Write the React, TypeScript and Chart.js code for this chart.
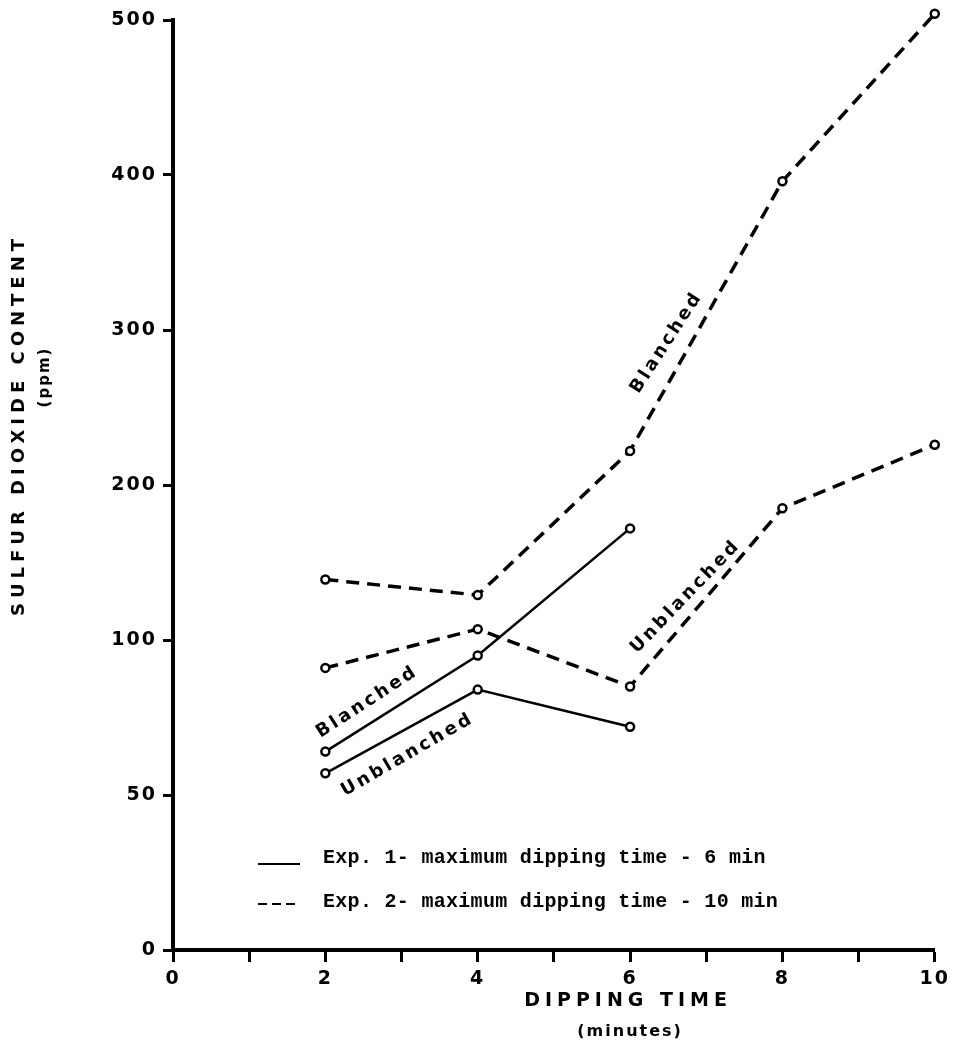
import React, { useEffect, useRef } from 'react';
import { Chart, registerables, LinearScale } from 'chart.js';

// ---- data ----
const Y_TICK_VALUES = [0, 50, 100, 200, 300, 400, 500];
const X_LABELED_TICKS = [0, 2, 4, 6, 8, 10];

const EXP1_TIMES = [2, 4, 6];
const EXP1_BLANCHED = [64, 95, 172];
const EXP1_UNBLANCHED = [57, 84, 72];

const EXP2_TIMES = [2, 4, 6, 8, 10];
const EXP2_BLANCHED = [139, 129, 222, 396, 504];
const EXP2_UNBLANCHED = [91, 107, 85, 185, 226];

const LEGEND_LINES = [
  { text: 'Exp. 1- maximum dipping time - 6 min', dashed: false },
  { text: 'Exp. 2- maximum dipping time - 10 min', dashed: true },
];

// curve labels, anchored in data units (minutes, ppm)
const CURVE_LABELS = [
  { text: 'Blanched', x: 2.55, y: 80, angle: -33 },
  { text: 'Unblanched', x: 3.08, y: 63, angle: -30 },
  { text: 'Blanched', x: 6.48, y: 292, angle: -57 },
  { text: 'Unblanched', x: 6.73, y: 128, angle: -46 },
];

// ---- piecewise y scale: ticks equally spaced, values 0,50,100,200..500 ----
function valueToPos(v: number): number {
  const t = Y_TICK_VALUES;
  let i = 0;
  while (i < t.length - 2 && v > t[i + 1]) i++;
  return i + (v - t[i]) / (t[i + 1] - t[i]);
}
function posToValue(p: number): number {
  const t = Y_TICK_VALUES;
  let i = Math.max(0, Math.min(t.length - 2, Math.floor(p)));
  return t[i] + (p - i) * (t[i + 1] - t[i]);
}

class PiecewiseScale extends LinearScale {
  static id = 'piecewise';
  static defaults = LinearScale.defaults;
  determineDataLimits() {
    this.min = 0;
    this.max = Y_TICK_VALUES.length - 1;
  }
  buildTicks() {
    return Y_TICK_VALUES.map((value) => ({ value }));
  }
  getPixelForValue(value: any) {
    if (value === null || value === undefined || isNaN(value)) return NaN;
    return super.getPixelForValue(valueToPos(value));
  }
  getValueForPixel(pixel: number) {
    return posToValue(super.getValueForPixel(pixel));
  }
}

Chart.register(...registerables, PiecewiseScale as any);

const SANS = '"DejaVu Sans", sans-serif';
const MONO = '"Liberation Mono", monospace';

function drawText(ctx: any, text: string, x: number, y: number, angle: number, font: string, spacing: string) {
  ctx.save();
  ctx.translate(x, y);
  ctx.rotate((angle * Math.PI) / 180);
  ctx.font = font;
  ctx.letterSpacing = spacing;
  ctx.fillStyle = '#000';
  ctx.textAlign = 'center';
  ctx.textBaseline = 'middle';
  ctx.fillText(text, 0, 0);
  ctx.restore();
}

const spacingPlugin = {
  id: 'spacing',
  beforeDraw(chart: any) {
    chart.ctx.letterSpacing = '2px';
  },
  beforeDatasetsDraw(chart: any) {
    chart.ctx.letterSpacing = '0px';
  },
};

const textPlugin = {
  id: 'texts',
  afterDraw(chart: any) {
    const ctx = chart.ctx;
    const xs = chart.scales.x;
    const ys = chart.scales.y;
    const area = chart.chartArea;

    // axis titles
    drawText(ctx, 'SULFUR DIOXIDE CONTENT', 19, 425, -90, `bold 18px ${SANS}`, '5px');
    drawText(ctx, '(ppm)', 45, 377, -90, `bold 15px ${SANS}`, '2px');
    drawText(ctx, 'DIPPING TIME', xs.getPixelForValue(6) - 2, 1001, 0, `bold 19px ${SANS}`, '5px');
    drawText(ctx, '(minutes)', xs.getPixelForValue(6), 1032, 0, `bold 16px ${SANS}`, '2px');

    // curve labels
    CURVE_LABELS.forEach((l) => {
      drawText(ctx, l.text, xs.getPixelForValue(l.x), ys.getPixelForValue(l.y), l.angle, `bold 18px ${SANS}`, '3px');
    });

    // legend
    const lx = area.left + 85;
    const tx = area.left + 150;
    const rowY = [area.bottom - 92, area.bottom - 48];
    LEGEND_LINES.forEach((row, i) => {
      const y = rowY[i];
      ctx.save();
      ctx.strokeStyle = '#000';
      ctx.lineWidth = 2;
      if (row.dashed) {
        ctx.setLineDash([9, 5]);
        ctx.beginPath();
        ctx.moveTo(lx, y + 2);
        ctx.lineTo(lx + 42, y + 2);
        ctx.stroke();
      } else {
        ctx.beginPath();
        ctx.moveTo(lx, y + 6);
        ctx.lineTo(lx + 42, y + 6);
        ctx.stroke();
      }
      ctx.restore();
      ctx.save();
      ctx.font = `bold 20px ${MONO}`;
      ctx.letterSpacing = '0.3px';
      ctx.fillStyle = '#000';
      ctx.textAlign = 'left';
      ctx.textBaseline = 'middle';
      ctx.fillText(row.text, tx, y);
      ctx.restore();
    });
  },
};

function makePoints(xs: number[], ys: number[]) {
  return xs.map((x, i) => ({ x, y: ys[i] }));
}

export default function App() {
  const ref = useRef<HTMLCanvasElement | null>(null);

  useEffect(() => {
    if (!ref.current) return;
    const solid = {
      borderColor: '#000',
      borderWidth: 2.5,
      pointRadius: 4,
      pointBorderWidth: 2.5,
      pointBackgroundColor: '#fff',
      pointBorderColor: '#000',
      clip: false,
      tension: 0,
      fill: false,
    };
    const dashed = { ...solid, borderWidth: 3.5, borderDash: [13, 8] };
    const tickFont = { family: SANS, size: 19, weight: 'bold' as const };

    const chart = new Chart(ref.current, {
      type: 'line',
      data: {
        datasets: [
          { label: 'Exp. 1 Blanched', data: makePoints(EXP1_TIMES, EXP1_BLANCHED), ...solid },
          { label: 'Exp. 1 Unblanched', data: makePoints(EXP1_TIMES, EXP1_UNBLANCHED), ...solid },
          { label: 'Exp. 2 Blanched', data: makePoints(EXP2_TIMES, EXP2_BLANCHED), ...dashed },
          { label: 'Exp. 2 Unblanched', data: makePoints(EXP2_TIMES, EXP2_UNBLANCHED), ...dashed },
        ] as any,
      },
      options: {
        animation: false,
        responsive: false,
        events: [],
        layout: { padding: { top: 20, right: 19, left: 0, bottom: 0 } },
        plugins: { legend: { display: false }, tooltip: { enabled: false }, title: { display: false } },
        scales: {
          x: {
            type: 'linear',
            min: 0,
            max: 10,
            afterFit: (s: any) => { s.height = 105; },
            ticks: {
              stepSize: 1,
              autoSkip: false,
              maxRotation: 0,
              padding: 6,
              color: '#000',
              font: tickFont,
              callback: (v: any) => (X_LABELED_TICKS.includes(v) ? String(v) : ''),
            },
            grid: { drawOnChartArea: false, drawTicks: true, tickLength: 12, tickWidth: 3, tickColor: '#000' },
            border: { display: true, color: '#000', width: 4 },
          },
          y: {
            type: 'piecewise' as any,
            afterFit: (s: any) => { s.width = 173; },
            ticks: {
              autoSkip: false,
              padding: 6,
              color: '#000',
              font: tickFont,
              callback: (v: any) => String(v),
            },
            grid: { drawOnChartArea: false, drawTicks: true, tickLength: 10, tickWidth: 3, tickColor: '#000' },
            border: { display: true, color: '#000', width: 4 },
          },
        } as any,
      },
      plugins: [spacingPlugin, textPlugin],
    });
    return () => chart.destroy();
  }, []);

  return (
    <div style={{ position: 'absolute', left: 0, top: 0, width: 954, height: 1055, background: '#fff' }}>
      <canvas ref={ref} width={954} height={1055} style={{ display: 'block' }} />
    </div>
  );
}
